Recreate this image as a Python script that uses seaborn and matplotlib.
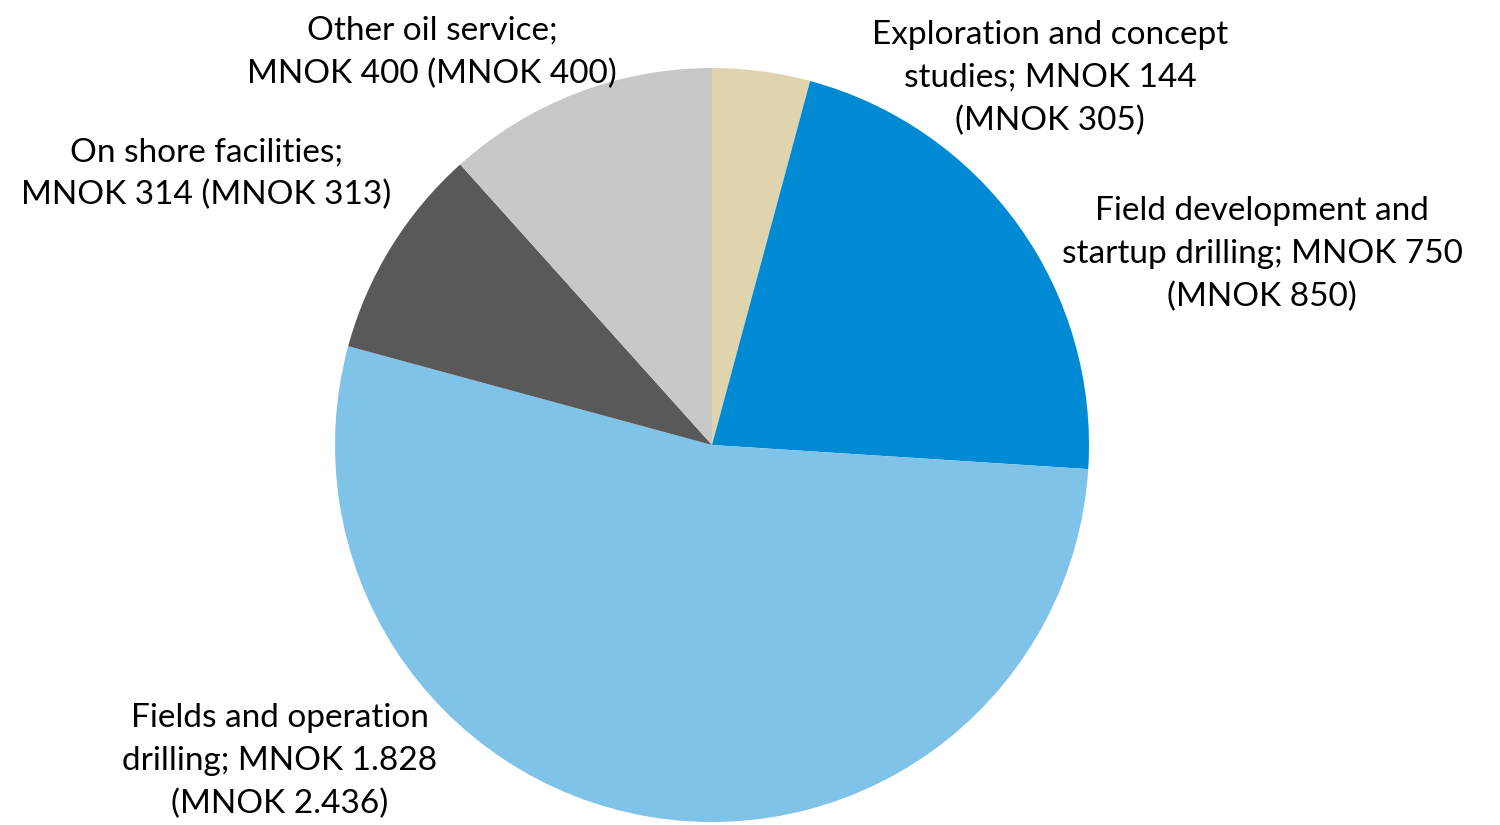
import matplotlib
matplotlib.use("Agg")
import matplotlib.pyplot as plt
import seaborn as sns

# Segment revenue, MNOK (current year, previous year in brackets)
segments = [
    "Exploration and concept studies",
    "Field development and startup drilling",
    "Fields and operation drilling",
    "On shore facilities",
    "Other oil service",
]
values = [144, 750, 1828, 314, 400]
label_texts = [
    "Exploration and concept\nstudies; MNOK 144\n(MNOK 305)",
    "Field development and\nstartup drilling; MNOK 750\n(MNOK 850)",
    "Fields and operation\ndrilling; MNOK 1.828\n(MNOK 2.436)",
    "On shore facilities;\nMNOK 314 (MNOK 313)",
    "Other oil service;\nMNOK 400 (MNOK 400)",
]
colors = ["#E0D4AE", "#008AD3", "#7FC4E8", "#595959", "#C8C8C8"]

# Label anchor points (data units, pie radius = 1)
label_pos = [(0.897, 0.973), (1.459, 0.507), (-1.146, -0.838),
             (-1.342, 0.719), (-0.743, 1.042)]

sns.set_theme(style="white")
plt.rcParams["font.family"] = ["Lato", "DejaVu Sans"]

fig = plt.figure(figsize=(15, 8.25), dpi=100)
ax = fig.add_axes([0, 0, 1, 1])

ax.pie(values, colors=colors, startangle=90, counterclock=False,
       radius=1.0, center=(0, 0), wedgeprops=dict(linewidth=0))

for text, (x, y) in zip(label_texts, label_pos):
    ax.text(x, y, text, ha="center", va="center", fontsize=24,
            color="#000000", linespacing=1.52)

ax.set_xlim(-712 / 377, (1500 - 712) / 377)
ax.set_ylim(-(825 - 445) / 377, 445 / 377)
ax.set_aspect("auto")
ax.axis("off")

fig.savefig("out.png", dpi=100, facecolor="white")
